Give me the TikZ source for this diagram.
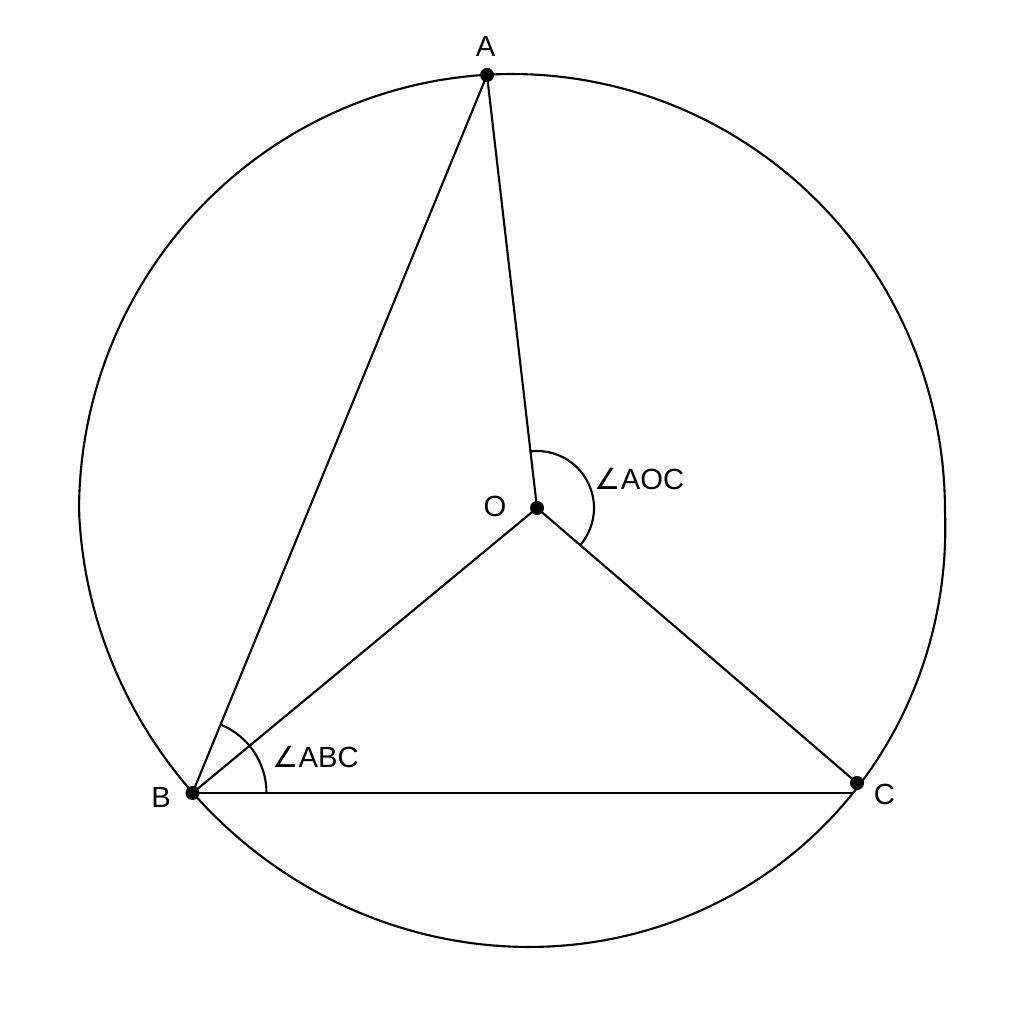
\documentclass[tikz,border=0pt]{standalone}
\usepackage{fontspec}
\setmainfont{Liberation Sans}
\newfontfamily\anglefont{DejaVu Sans}
\usepackage{tikz}

\begin{document}
\begin{tikzpicture}[x=0.01cm, y=0.01cm]
    \tikzstyle{point}=[circle, fill=black, minimum size=14pt*0.2845, inner sep=0pt]
    \tikzstyle{tag}=[inner sep=0pt, font=\fontsize{8.3}{10}\selectfont]
    \tikzstyle{edge}=[line width=0.6pt, line cap=round]

    \useasboundingbox (0, 0) rectangle (1024, 1024);

    % the circle (its lower half leans a little to the right, as in the drawing)
    \draw[edge] plot[domain=0:360, samples=240, variable=\t]
        ({512 + 433*cos(\t) + 17*max(-sin(\t), 0)}, {513.5 + 436.5*sin(\t)}) -- cycle;

    \node[point] (A) at (487, 949) {};
    \node[point] (O) at (537, 516) {};
    \node[point] (B) at (192.5, 231) {};
    \node[point] (C) at (857, 241) {};
    \coordinate (Cend) at (852, 231);

    \draw[edge] (B.center) -- (A.center);
    \draw[edge] (O.center) -- (A.center);
    \draw[edge] (O.center) -- (B.center);
    \draw[edge] (O.center) -- (C.center);
    \draw[edge] (B.center) -- (Cend);

    % angle marks
    \draw[edge] ([shift={(96.6:57)}]O.center) arc[start angle=96.6, end angle=-40.7, radius=57];
    \draw[edge] ([shift={(0:74)}]B.center) arc[start angle=0, end angle=67.7, radius=74];

    \node[tag] (labA) at (485.5, 977.5) {A};
    \node[tag] (labO) at (495, 518) {O};
    \node[tag] (labB) at (161, 226.5) {B};
    \node[tag] (labC) at (884.5, 229.5) {C};
    \node[tag] (labAOC) at (639.5, 544.5) {{\anglefont ∠}AOC};
    \node[tag] (labABC) at (315.5, 266.5) {{\anglefont ∠}ABC};
\end{tikzpicture}
\end{document}
